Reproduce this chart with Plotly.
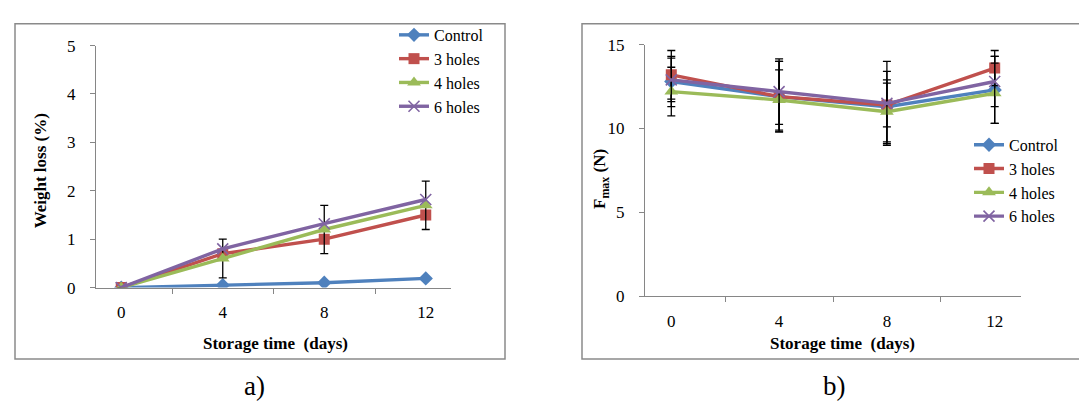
import plotly.graph_objects as go

# ---------------- data ----------------
days = ["0", "4", "8", "12"]
series_names = ["Control", "3 holes", "4 holes", "6 holes"]

weight_control = [0, 0.05, 0.1, 0.19]
weight_3holes = [0, 0.7, 1.0, 1.5]
weight_4holes = [0, 0.6, 1.2, 1.7]
weight_6holes = [0, 0.8, 1.32, 1.82]
weight_4holes_err = [0, 0.4, 0.5, 0.5]

fmax_control = [12.8, 11.9, 11.3, 12.3]
fmax_3holes = [13.2, 11.9, 11.4, 13.6]
fmax_4holes = [12.2, 11.7, 11.0, 12.1]
fmax_6holes = [12.9, 12.2, 11.5, 12.8]
fmax_control_err = [1.5, 2.1, 2.1, 2.0]
fmax_3holes_err = [1.45, 2.1, 1.3, 1.05]
fmax_4holes_err = [1.45, 1.8, 1.9, 1.8]
fmax_6holes_err = [1.3, 1.95, 2.5, 1.5]

# ---------------- styles ----------------
W, H = 1087, 402
FONT = "Liberation Serif"
colors = ["#4F81BD", "#C0504D", "#9BBB59", "#8064A2"]
symbols = ["diamond", "square", "triangle-up", "x-thin"]
msizes = [11, 11, 12, 11]
AXIS_GRAY = "#868686"


def fx(px):
    return px / W


def fy(py):
    return 1 - py / H


fig = go.Figure()

weight_series = [weight_control, weight_3holes, weight_4holes, weight_6holes]
weight_errs = [None, None, weight_4holes_err, None]
fmax_series = [fmax_control, fmax_3holes, fmax_4holes, fmax_6holes]
fmax_errs = [fmax_control_err, fmax_3holes_err, fmax_4holes_err, fmax_6holes_err]


def marker(i):
    m = dict(symbol=symbols[i], size=msizes[i], color=colors[i])
    if symbols[i] == "x-thin":
        m["line"] = dict(width=1.6, color=colors[i])
    return m


for i, name in enumerate(series_names):
    err = weight_errs[i]
    fig.add_trace(go.Scatter(
        x=days, y=weight_series[i], name=name, mode="lines+markers",
        line=dict(color=colors[i], width=3.4), marker=marker(i),
        error_y=(dict(type="data", array=err, color="black", thickness=1.3, width=4, visible=True)
                 if err is not None else dict(visible=False)),
        xaxis="x", yaxis="y", legend="legend",
    ))

for i, name in enumerate(series_names):
    fig.add_trace(go.Scatter(
        x=days, y=fmax_series[i], name=name, mode="lines+markers",
        line=dict(color=colors[i], width=3.4), marker=marker(i),
        error_y=dict(type="data", array=fmax_errs[i], color="black", thickness=1.3, width=4, visible=True),
        xaxis="x2", yaxis="y2", legend="legend2",
    ))

axis_common = dict(
    showline=True, linecolor=AXIS_GRAY, linewidth=1, showgrid=False, zeroline=False,
    ticks="outside", ticklen=5, tickcolor=AXIS_GRAY, tickwidth=1,
    tickfont=dict(family=FONT, size=17, color="black"),
)

legend_font = dict(family=FONT, size=16, color="black")

fig.update_layout(
    width=W, height=H,
    margin=dict(l=0, r=0, t=0, b=0),
    paper_bgcolor="white", plot_bgcolor="white",
    font=dict(family=FONT, size=17, color="black"),
    xaxis=dict(domain=[fx(88), fx(443)], anchor="y", type="category",
               tickson="boundaries", ticklabelstandoff=9, **axis_common),
    yaxis=dict(domain=[fy(284), fy(30)], anchor="x", range=[0, 5], dtick=1,
               ticklabelstandoff=11, **axis_common),
    xaxis2=dict(domain=[fx(637), fx(1013)], anchor="y2", type="category",
                tickson="boundaries", ticklabelstandoff=9, **axis_common),
    yaxis2=dict(domain=[fy(293), fy(29)], anchor="x2", range=[0, 15], dtick=5,
                ticklabelstandoff=11, **axis_common),
    legend=dict(x=fx(386), y=fy(1), xanchor="left", yanchor="top",
                font=legend_font, bgcolor="rgba(0,0,0,0)", tracegroupgap=0),
    legend2=dict(x=fx(961), y=fy(172), xanchor="left", yanchor="middle",
                 font=legend_font, bgcolor="rgba(0,0,0,0)", tracegroupgap=0),
    showlegend=True,
)

# panel frames
fig.add_shape(type="rect", xref="paper", yref="paper",
              x0=fx(7), x1=fx(497), y0=fy(359), y1=fy(7),
              line=dict(color="#8a8a8a", width=1.5), layer="below")
fig.add_shape(type="rect", xref="paper", yref="paper",
              x0=fx(574), x1=fx(1095), y0=fy(359), y1=fy(7),
              line=dict(color="#8a8a8a", width=1.5), layer="below")

title_font = dict(family=FONT, size=17, color="black")
annos = [
    dict(text="<b>Storage time  (days)</b>", x=fx(267), y=fy(343)),
    dict(text="<b>Storage time  (days)</b>", x=fx(834), y=fy(343)),
    dict(text="<b>Weight loss (%)</b>", x=fx(32), y=fy(162), textangle=-90),
    dict(text="<b>F<sub>max</sub> (N)</b>", x=fx(593), y=fy(170), textangle=-90),
]
for a in annos:
    fig.add_annotation(xref="paper", yref="paper", showarrow=False,
                       xanchor="center", yanchor="middle", font=title_font, **a)

for txt, cx in [("a)", 246), ("b)", 826)]:
    fig.add_annotation(text=txt, xref="paper", yref="paper", x=fx(cx), y=fy(387),
                       showarrow=False, xanchor="center", yanchor="middle",
                       font=dict(family=FONT, size=27, color="black"))

fig.write_html("out.html")
